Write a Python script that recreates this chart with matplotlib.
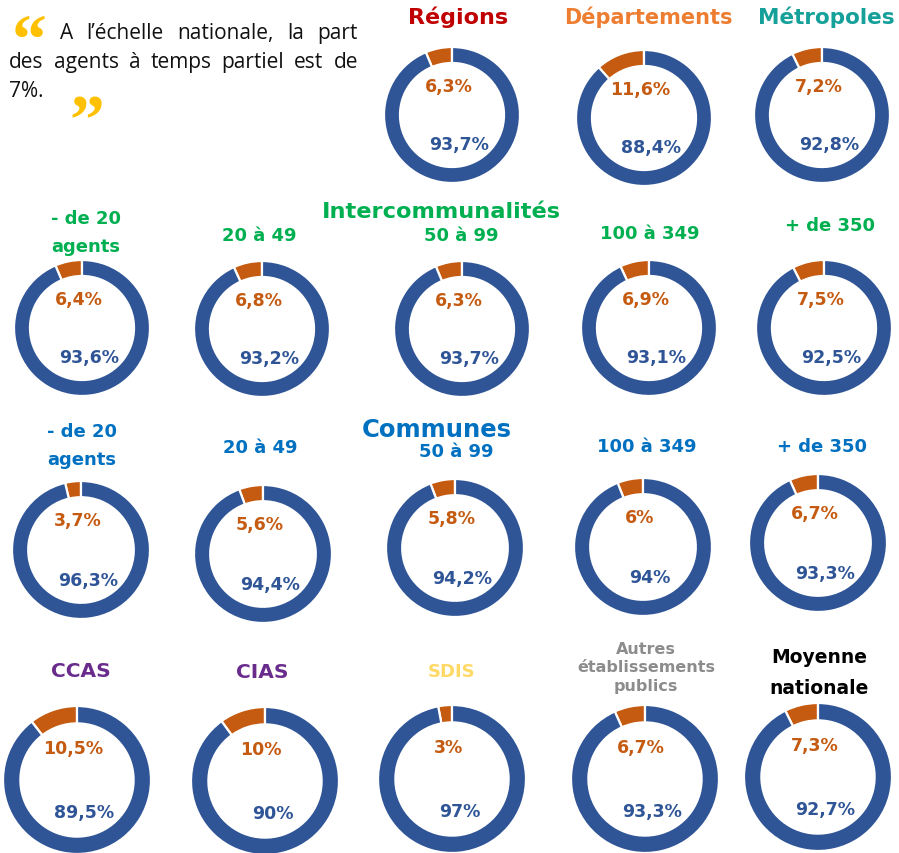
import matplotlib
matplotlib.use("Agg")
import matplotlib.pyplot as plt

W, H, DPI = 899, 854, 100

BLUE = "#2F5597"
ORANGE = "#C55A11"

# Régions / Départements / Métropoles
top_names = ["Régions", "Départements", "Métropoles"]
top_colors = ["#C00000", "#ED7D31", "#16A09A"]
top_partiel = [6.3, 11.6, 7.2]
top_complet = [93.7, 88.4, 92.8]

# Intercommunalités et communes, par taille de collectivité
tranches = ["- de 20\nagents", "20 à 49", "50 à 99", "100 à 349", "+ de 350"]
interco_partiel = [6.4, 6.8, 6.3, 6.9, 7.5]
interco_complet = [93.6, 93.2, 93.7, 93.1, 92.5]
communes_partiel = [3.7, 5.6, 5.8, 6.0, 6.7]
communes_complet = [96.3, 94.4, 94.2, 94.0, 93.3]

# Établissements publics et moyenne nationale
autres_names = ["CCAS", "CIAS", "SDIS", "Autres\nétablissements\npublics",
                "Moyenne\nnationale"]
autres_colors = ["#6A2C8C", "#6A2C8C", "#FFD966", "#8C8C8C", "#000000"]
autres_partiel = [10.5, 10.0, 3.0, 6.7, 7.3]
autres_complet = [89.5, 90.0, 97.0, 93.3, 92.7]

GREEN = "#00B050"
COMM_BLUE = "#0070C0"

fig = plt.figure(figsize=(W / DPI, H / DPI), dpi=DPI)
fig.patch.set_facecolor("white")

FONT = "DejaVu Sans"


def fx(x):
    return x / W


def fy(y):
    return 1 - y / H


def fmt(v):
    s = f"{v:.1f}"
    if s.endswith(".0"):
        s = s[:-2]
    return s.replace(".", ",") + "%"


def donut(cx, cy, r, partiel, complet, lab_size=12.5):
    lim = 1.03
    rr = r * lim
    ax = fig.add_axes([fx(cx - rr), fy(cy + rr), 2 * rr / W, 2 * rr / H])
    ax.pie([partiel, complet], colors=[ORANGE, BLUE], startangle=90,
           counterclock=True, radius=1.0,
           wedgeprops=dict(width=0.235, edgecolor="white", linewidth=1.6))
    ax.set_xlim(-lim, lim)
    ax.set_ylim(-lim, lim)
    ax.set_aspect("equal")
    ax.axis("off")
    ax.text(-0.05, 0.43, fmt(partiel), color=ORANGE, ha="center", va="center",
            fontsize=lab_size, fontweight="bold", family=FONT)
    ax.text(0.1, -0.43, fmt(complet), color=BLUE, ha="center", va="center",
            fontsize=lab_size, fontweight="bold", family=FONT)
    return ax


def title(x, y, s, color, size=13, ls=1.15):
    fig.text(fx(x), fy(y), s, color=color, ha="center", va="center",
             fontsize=size, fontweight="bold", family=FONT, linespacing=ls)


# --- top row ---
top_pos = [(452, 116), (644, 119), (822, 116)]
top_title_x = [458, 648, 826]
top_title_size = [16, 15, 15.5]
for (cx, cy), name, col, p, c, tx, sz in zip(top_pos, top_names, top_colors,
                                             top_partiel, top_complet,
                                             top_title_x, top_title_size):
    donut(cx, cy, 68, p, c)
    title(tx, 17, name, col, size=sz)

# --- intercommunalités ---
title(441, 212, "Intercommunalités", GREEN, size=16.2)
interco_pos = [(82, 329), (262, 330), (462, 330), (649, 329), (824, 329)]
interco_lab = [(86, 233), (259, 236), (461, 236), (650, 234), (830, 226)]
for (cx, cy), (tx, ty), name, p, c in zip(interco_pos, interco_lab, tranches,
                                          interco_partiel, interco_complet):
    donut(cx, cy, 68, p, c)
    title(tx, ty, name, GREEN, size=13, ls=1.75)

# --- communes ---
title(437, 430, "Communes", COMM_BLUE, size=17.5)
comm_pos = [(81, 551), (263, 555), (455, 549), (643, 548), (818, 544)]
comm_lab = [(82, 446), (260, 448), (456, 452), (647, 447), (822, 447)]
for (cx, cy), (tx, ty), name, p, c in zip(comm_pos, comm_lab, tranches,
                                          communes_partiel, communes_complet):
    donut(cx, cy, 69, p, c)
    title(tx, ty, name, COMM_BLUE, size=13, ls=1.75)

# --- établissements publics ---
autres_pos = [(77, 781), (265, 782), (452, 780), (645, 780), (818, 778)]
autres_lab = [(81, 672), (262, 673), (452, 672), (646, 668), (819, 673)]
autres_size = [14.5, 14.5, 13, 11.5, 13.5]
autres_ls = [1.2, 1.2, 1.2, 1.32, 1.85]
for (cx, cy), (tx, ty), name, col, sz, ls, p, c in zip(
        autres_pos, autres_lab, autres_names, autres_colors, autres_size,
        autres_ls, autres_partiel, autres_complet):
    donut(cx, cy, 74, p, c)
    title(tx, ty, name, col, size=sz, ls=ls)

# --- citation, texte justifié ---
renderer = fig.canvas.get_renderer()
QFONT = "Open Sans"
QSIZE = 15


def justified(words, x0, x1, y):
    texts = [fig.text(0, fy(y), w, fontsize=QSIZE, family=QFONT,
                      va="baseline", ha="left", color="#111111") for w in words]
    widths = [t.get_window_extent(renderer).width for t in texts]
    gap = (x1 - x0 - sum(widths)) / (len(words) - 1)
    x = x0
    for t, w in zip(texts, widths):
        t.set_x(fx(x))
        x += w + gap


justified(["A", "l’échelle", "nationale,", "la", "part"], 60, 358, 39)
justified(["des", "agents", "à", "temps", "partiel", "est", "de"], 9, 358, 68)
fig.text(fx(9), fy(97), "7%.", fontsize=QSIZE, family=QFONT, va="baseline",
         ha="left", color="#111111")

QUOTE = "#FFC000"
fig.text(fx(29), fy(62), "“", fontsize=50, family="Liberation Serif",
         fontweight="bold", color=QUOTE, ha="center", va="baseline")
fig.text(fx(87), fy(143), "”", fontsize=50, family="Liberation Serif",
         fontweight="bold", color=QUOTE, ha="center", va="baseline")

fig.savefig("out.png", dpi=DPI, facecolor="white")
